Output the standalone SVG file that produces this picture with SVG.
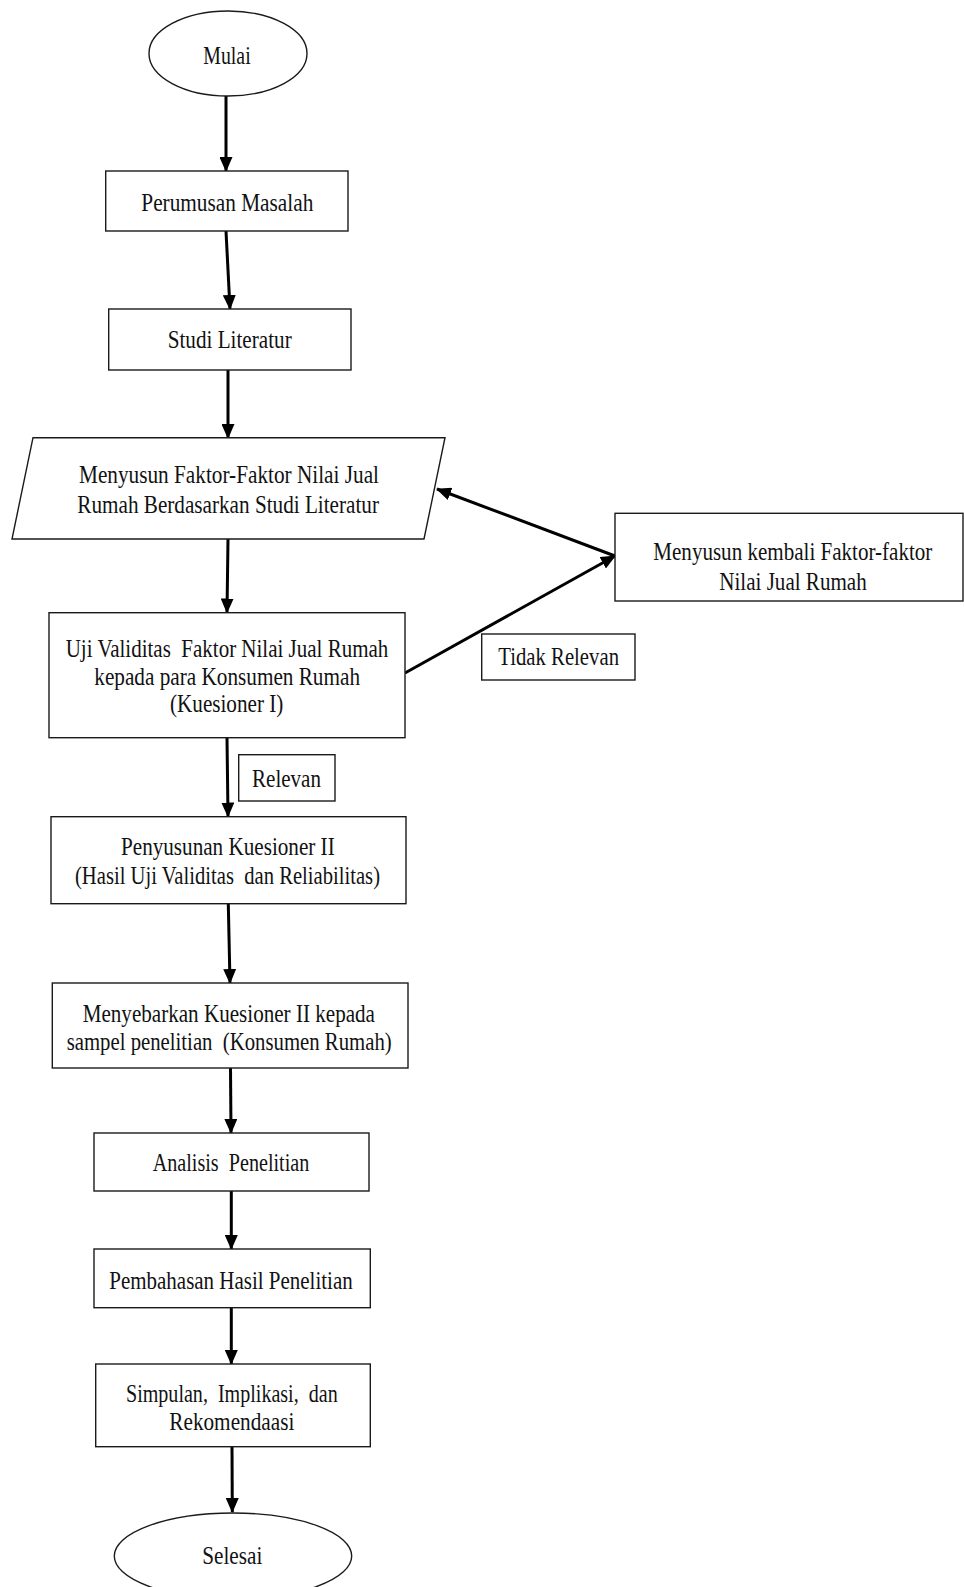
<svg xmlns="http://www.w3.org/2000/svg" width="964" height="1587" viewBox="0 0 964 1587">
<style>
.shape{fill:#fff;stroke:#1a1a1a;stroke-width:1.4}
.t{font-family:"Liberation Serif","Times New Roman",serif;font-size:26px;fill:#111}
.c{fill:none;stroke:#000;stroke-width:3}
</style>
<defs>
<marker id="ah" markerUnits="userSpaceOnUse" markerWidth="15" markerHeight="13" refX="14" refY="6.5" orient="auto">
<path d="M0,0 L15,6.5 L0,13 z" fill="#000"/>
</marker>
</defs>
<rect width="964" height="1587" fill="#fff"/>
<g id="connectors">
<line class="c" x1="226" y1="96" x2="226" y2="171" marker-end="url(#ah)"/>
<line class="c" x1="226" y1="231" x2="230" y2="309" marker-end="url(#ah)"/>
<line class="c" x1="228" y1="370" x2="228" y2="438" marker-end="url(#ah)"/>
<line class="c" x1="228" y1="539" x2="227" y2="612.5" marker-end="url(#ah)"/>
<line class="c" x1="227" y1="737.5" x2="228" y2="816.5" marker-end="url(#ah)"/>
<line class="c" x1="228.3" y1="904" x2="230" y2="983" marker-end="url(#ah)"/>
<line class="c" x1="230.5" y1="1068" x2="231" y2="1133" marker-end="url(#ah)"/>
<line class="c" x1="231.3" y1="1191" x2="231.3" y2="1249" marker-end="url(#ah)"/>
<line class="c" x1="231.3" y1="1308" x2="231.3" y2="1364" marker-end="url(#ah)"/>
<line class="c" x1="232" y1="1447" x2="232.3" y2="1512" marker-end="url(#ah)"/>
<line class="c" x1="615" y1="556" x2="437" y2="489" marker-end="url(#ah)"/>
<line class="c" x1="405" y1="673" x2="615" y2="556" marker-end="url(#ah)"/>
</g>
<g id="mulai">
<ellipse class="shape" cx="228" cy="53.5" rx="79" ry="42.5"/>
<text class="t" x="203.3" y="63.5" textLength="47.4" lengthAdjust="spacingAndGlyphs">Mulai</text>
</g>
<g id="perumusan">
<rect class="shape" x="105.7" y="171" width="242.3" height="60"/>
<text class="t" x="141.3" y="210.7" textLength="172" lengthAdjust="spacingAndGlyphs">Perumusan Masalah</text>
</g>
<g id="studi">
<rect class="shape" x="108.7" y="309" width="242.3" height="61"/>
<text class="t" x="167.7" y="348.3" textLength="124" lengthAdjust="spacingAndGlyphs">Studi Literatur</text>
</g>
<g id="menyusun">
<polygon class="shape" points="33,437.7 445,437.7 424,539 12,539"/>
<text class="t" x="79" y="483.3" textLength="300" lengthAdjust="spacingAndGlyphs">Menyusun Faktor-Faktor Nilai Jual</text>
<text class="t" x="77.3" y="512.7" textLength="301.7" lengthAdjust="spacingAndGlyphs">Rumah Berdasarkan Studi Literatur</text>
</g>
<g id="uji">
<rect class="shape" x="49" y="612.7" width="356" height="125"/>
<text class="t" x="65.7" y="656.7" textLength="322.6" lengthAdjust="spacingAndGlyphs" xml:space="preserve">Uji Validitas  Faktor Nilai Jual Rumah</text>
<text class="t" x="94.3" y="685" textLength="265.7" lengthAdjust="spacingAndGlyphs">kepada para Konsumen Rumah</text>
<text class="t" x="170" y="712" textLength="113.3" lengthAdjust="spacingAndGlyphs">(Kuesioner I)</text>
</g>
<g id="menyusun-kembali">
<rect class="shape" x="615" y="513.3" width="348" height="87.7"/>
<text class="t" x="653.3" y="560" textLength="279" lengthAdjust="spacingAndGlyphs">Menyusun kembali Faktor-faktor</text>
<text class="t" x="719.3" y="590" textLength="147.4" lengthAdjust="spacingAndGlyphs">Nilai Jual Rumah</text>
</g>
<g id="tidak-relevan">
<rect class="shape" x="481.7" y="634" width="153.3" height="46"/>
<text class="t" x="498.3" y="665" textLength="120.7" lengthAdjust="spacingAndGlyphs">Tidak Relevan</text>
</g>
<g id="relevan">
<rect class="shape" x="238.7" y="754.7" width="96.3" height="46.3"/>
<text class="t" x="252" y="786.7" textLength="69" lengthAdjust="spacingAndGlyphs">Relevan</text>
</g>
<g id="penyusunan">
<rect class="shape" x="51" y="816.7" width="355" height="87"/>
<text class="t" x="121" y="855" textLength="213.7" lengthAdjust="spacingAndGlyphs">Penyusunan Kuesioner II</text>
<text class="t" x="75" y="884" textLength="305" lengthAdjust="spacingAndGlyphs" xml:space="preserve">(Hasil Uji Validitas  dan Reliabilitas)</text>
</g>
<g id="menyebarkan">
<rect class="shape" x="52.3" y="983" width="355.7" height="85"/>
<text class="t" x="82.7" y="1021.7" textLength="292.3" lengthAdjust="spacingAndGlyphs">Menyebarkan Kuesioner II kepada</text>
<text class="t" x="66.7" y="1050" textLength="325" lengthAdjust="spacingAndGlyphs" xml:space="preserve">sampel penelitian  (Konsumen Rumah)</text>
</g>
<g id="analisis">
<rect class="shape" x="94" y="1133" width="275" height="58"/>
<text class="t" x="152.7" y="1171" textLength="156.6" lengthAdjust="spacingAndGlyphs" xml:space="preserve">Analisis  Penelitian</text>
</g>
<g id="pembahasan">
<rect class="shape" x="94" y="1249" width="276.3" height="58.7"/>
<text class="t" x="109.3" y="1288.7" textLength="243.4" lengthAdjust="spacingAndGlyphs">Pembahasan Hasil Penelitian</text>
</g>
<g id="simpulan">
<rect class="shape" x="95.7" y="1364" width="274.6" height="82.7"/>
<text class="t" x="126" y="1401.7" textLength="211.7" lengthAdjust="spacingAndGlyphs" xml:space="preserve">Simpulan,  Implikasi,  dan</text>
<text class="t" x="169.3" y="1430" textLength="125" lengthAdjust="spacingAndGlyphs">Rekomendaasi</text>
</g>
<g id="selesai">
<ellipse class="shape" cx="233" cy="1556" rx="118.7" ry="43"/>
<text class="t" x="202.3" y="1564.3" textLength="60" lengthAdjust="spacingAndGlyphs">Selesai</text>
</g>
</svg>
